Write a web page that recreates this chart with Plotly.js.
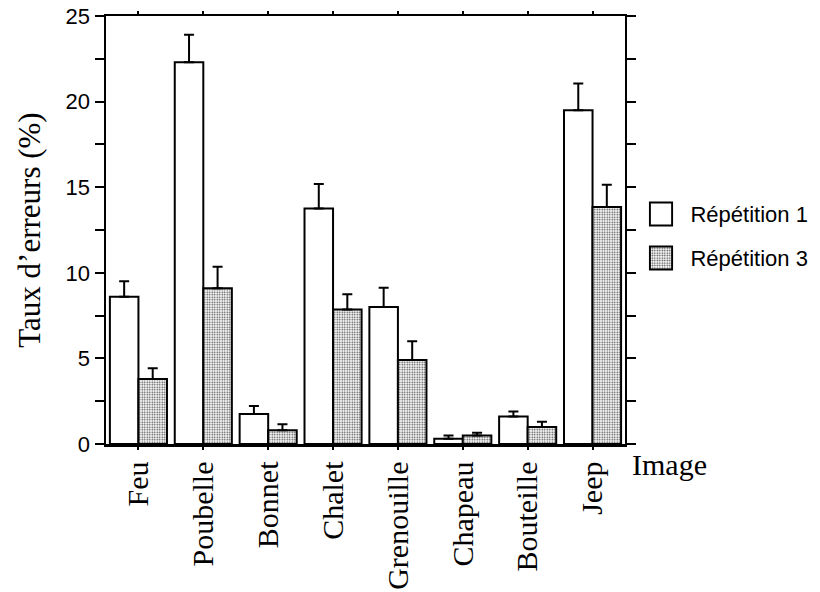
<!DOCTYPE html>
<html>
<head>
<meta charset="utf-8">
<script src="https://cdn.plot.ly/plotly-3.0.1.min.js"></script>
<style>
  html, body { margin: 0; padding: 0; background: #fff; }
  #chart { width: 820px; height: 592px; }
</style>
</head>
<body>
<div id="chart"></div>
<script>
// Error rates per picture, first vs third repetition (mean and upper error)
const images = ['Feu', 'Poubelle', 'Bonnet', 'Chalet', 'Grenouille', 'Chapeau', 'Bouteille', 'Jeep'];
const rep1 = [8.6, 22.3, 1.75, 13.75, 8.0, 0.3, 1.6, 19.5];
const rep1Err = [0.9, 1.6, 0.47, 1.43, 1.13, 0.2, 0.3, 1.56];
const rep3 = [3.8, 9.1, 0.8, 7.85, 4.9, 0.5, 1.0, 13.85];
const rep3Err = [0.62, 1.25, 0.35, 0.9, 1.1, 0.15, 0.3, 1.3];
const noLower = [0, 0, 0, 0, 0, 0, 0, 0];
const seriesNames = ['Répétition 1', 'Répétition 3'];
const yTickVals = [0, 2.5, 5, 7.5, 10, 12.5, 15, 17.5, 20, 22.5, 25];
const yTickText = ['0', '', '5', '', '10', '', '15', '', '20', '', '25'];

const SERIF = 'Liberation Serif, Times New Roman, serif';
const SANS = 'Liberation Sans, Arial, sans-serif';

const outline = { color: '#000', width: 2 };
const stipple = { shape: '.', size: 2.5, solidity: 0.35, fgcolor: '#444', bgcolor: '#fff', fillmode: 'replace' };

function errBars(arr) {
  return { type: 'data', symmetric: false, array: arr, arrayminus: noLower,
           color: '#000', thickness: 2, width: 5 };
}

const traces = [
  { type: 'bar', name: seriesNames[0], x: images, y: rep1, xaxis: 'x', yaxis: 'y',
    marker: { color: '#fff', line: outline }, error_y: errBars(rep1Err), showlegend: false },
  { type: 'bar', name: seriesNames[1], x: images, y: rep3, xaxis: 'x', yaxis: 'y',
    marker: { color: '#fff', line: outline, pattern: stipple }, error_y: errBars(rep3Err), showlegend: false },
  // key swatches, drawn as a tiny bar subplot so they share the bar styling
  { type: 'bar', orientation: 'h', x: [1], y: [1], base: 0, width: 0.52, xaxis: 'x2', yaxis: 'y2',
    marker: { color: '#fff', line: outline }, showlegend: false, hoverinfo: 'skip' },
  { type: 'bar', orientation: 'h', x: [1], y: [0], base: 0, width: 0.52, xaxis: 'x2', yaxis: 'y2',
    marker: { color: '#fff', line: outline, pattern: stipple }, showlegend: false, hoverinfo: 'skip' }
];

const layout = {
  width: 820, height: 592,
  margin: { l: 106, r: 2, t: 16, b: 148 },
  paper_bgcolor: '#fff', plot_bgcolor: '#fff',
  barmode: 'group', bargap: 0.12, bargroupgap: 0,
  showlegend: false,
  xaxis: {
    domain: [0, 0.7289],
    type: 'category', categoryorder: 'array', categoryarray: images,
    range: [-0.5, 7.5],
    showline: true, linecolor: '#000', linewidth: 2.5, mirror: 'ticks',
    ticks: 'outside', ticklen: 3, tickwidth: 2, tickcolor: '#000',
    tickangle: -90, ticklabelstandoff: 0,
    tickfont: { family: SERIF, size: 30, color: '#000' },
    showgrid: false, zeroline: false, fixedrange: true
  },
  yaxis: {
    range: [0, 25],
    tickvals: yTickVals, ticktext: yTickText,
    showline: true, linecolor: '#000', linewidth: 2.5, mirror: 'ticks',
    ticks: 'outside', ticklen: 9, tickwidth: 2, tickcolor: '#000',
    tickfont: { family: SANS, size: 22, color: '#000' },
    title: { text: 'Taux d’erreurs (%)', font: { family: SERIF, size: 31, color: '#000' }, standoff: 16 },
    showgrid: false, zeroline: false, fixedrange: true
  },
  xaxis2: {
    domain: [0.762, 0.797], anchor: 'y2', range: [-0.06, 1.06],
    visible: false, fixedrange: true
  },
  yaxis2: {
    domain: [0.383, 0.589], anchor: 'x2', range: [-0.5, 1.5], side: 'right',
    tickvals: [1, 0], ticktext: seriesNames,
    ticks: '', ticklabelstandoff: 16,
    tickfont: { family: SANS, size: 22, color: '#000' },
    showline: false, showgrid: false, zeroline: false, fixedrange: true
  },
  annotations: [
    { text: 'Image', xref: 'paper', yref: 'paper', x: 0.736, y: -0.049,
      xanchor: 'left', yanchor: 'middle', showarrow: false,
      font: { family: SERIF, size: 30, color: '#000' } }
  ]
};

Plotly.newPlot('chart', traces, layout, { staticPlot: true, displayModeBar: false });
</script>
</body>
</html>
